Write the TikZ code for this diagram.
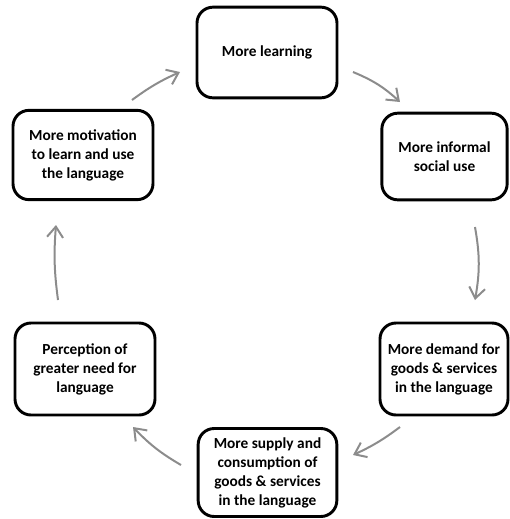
\documentclass[tikz,border=0pt]{standalone}
\usepackage{fontspec}
\setmainfont{Carlito}
\usepackage{tikz}
\usetikzlibrary{arrows.meta}

\begin{document}
\begin{tikzpicture}
    [
    x=0.75pt,y=-0.75pt,
    stage/.style={draw,line width=2.2pt,rounded corners=12pt,align=center,
        inner sep=0pt,font=\bfseries\fontsize{11.5}{14.25}\selectfont},
    cycle/.style={draw=gray!90,line width=1.5pt,
        -{Straight Barb[length=8pt,width=12pt,line width=1.5pt]}},
    ]
    \useasboundingbox (0,0) rectangle (510,519);
    \node (learn) at (267,52.5) [stage,minimum width=105pt,minimum height=68pt] {More learning};
    \node (social) at (444.5,156.5) [stage,minimum width=94pt,minimum height=65pt] {More informal\\social use};
    \node (demand) at (444,369) [stage,minimum width=96pt,minimum height=69pt] {More demand for\\goods \& services\\in the language};
    \node (supply) at (267.5,472.5) [stage,minimum width=104pt,minimum height=66pt] {More supply and\\consumption of\\goods \& services\\in the language};
    \node (need) at (85,369) [stage,minimum width=105pt,minimum height=69pt] {Perception of\\greater need for\\language};
    \node (motive) at (83,155) [stage,minimum width=105pt,minimum height=67pt] {More motivation\\to learn and use\\the language};

    \coordinate (a1) at (353,72);
    \coordinate (b1) at (400,102);
    \coordinate (a2) at (475,227);
    \coordinate (b2) at (475,300);
    \coordinate (a3) at (400,427);
    \coordinate (b3) at (353,455);
    \coordinate (a4) at (181,465);
    \coordinate (b4) at (133,427);
    \coordinate (a5) at (58,300);
    \coordinate (b5) at (56,225);
    \coordinate (a6) at (132,100);
    \coordinate (b6) at (180,72);
    \draw [cycle] (a1) to[bend left=10] (b1);
    \draw [cycle] (a2) to[bend left=10] (b2);
    \draw [cycle] (a3) to[bend left=6] (b3);
    \draw [cycle] (a4) to[bend left=8] (b4);
    \draw [cycle] (a5) to[bend left=6] (b5);
    \draw [cycle] (a6) to[bend left=6] (b6);
\end{tikzpicture}
\end{document}
